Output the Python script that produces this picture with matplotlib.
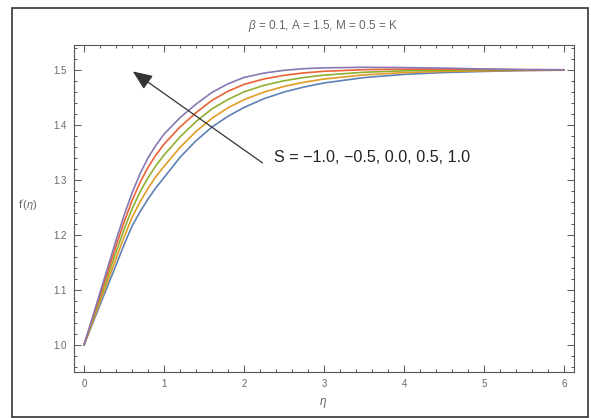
import matplotlib.pyplot as plt
from matplotlib.patches import Rectangle
from matplotlib.ticker import MultipleLocator

plt.rcParams['font.family'] = ['Liberation Sans', 'DejaVu Sans']
plt.rcParams['mathtext.fontset'] = 'custom'
plt.rcParams['mathtext.it'] = 'Liberation Sans:italic'
plt.rcParams['mathtext.rm'] = 'Liberation Sans'

# eta grid and f'(eta), one list per S value
eta = [0, 0.2, 0.4, 0.5, 0.6, 0.7, 0.8, 0.9, 1.0, 1.2, 1.4, 1.6, 1.8, 2.0,
       2.25, 2.5, 2.75, 3.0, 3.5, 4.0, 4.5, 5.0, 5.5, 6.0]
s_values = ['-1.0', '-0.5', '0.0', '0.5', '1.0']
f_s_m10 = [1.0, 1.073, 1.145, 1.182, 1.216, 1.242, 1.265, 1.286, 1.304, 1.341,
           1.371, 1.396, 1.4155, 1.4315, 1.4475, 1.4595, 1.4687, 1.476, 1.4858,
           1.4916, 1.495, 1.497, 1.4985, 1.4993]
f_s_m05 = [1.0, 1.0787, 1.1567, 1.1958, 1.2316, 1.260, 1.2845, 1.306, 1.3245,
           1.359, 1.388, 1.412, 1.431, 1.4457, 1.4596, 1.4698, 1.4774, 1.4832,
           1.4907, 1.4948, 1.4971, 1.4982, 1.499, 1.4995]
f_s_00 = [1.0, 1.0844, 1.1684, 1.2096, 1.2472, 1.2779, 1.304, 1.326, 1.345,
          1.378, 1.406, 1.429, 1.446, 1.460, 1.4717, 1.480, 1.486, 1.4903,
          1.4955, 1.498, 1.4992, 1.4993, 1.4995, 1.4997]
f_s_p05 = [1.0, 1.0899, 1.1797, 1.2228, 1.2622, 1.2951, 1.3228, 1.3453, 1.3648,
           1.396, 1.422, 1.4445, 1.461, 1.4735, 1.4833, 1.4899, 1.4943, 1.4972,
           1.5002, 1.5011, 1.5012, 1.5005, 1.5, 1.4999]
f_s_p10 = [1.0, 1.095, 1.19, 1.235, 1.276, 1.311, 1.340, 1.363, 1.383, 1.413,
           1.4375, 1.459, 1.4745, 1.486, 1.494, 1.499, 1.502, 1.5035, 1.5045,
           1.504, 1.503, 1.5015, 1.5005, 1.500]
series = [f_s_m10, f_s_m05, f_s_00, f_s_p05, f_s_p10]
colors = ['#5E81B5', '#E19C24', '#8FB032', '#EB6235', '#8778B3']

fig = plt.figure(figsize=(5.91, 4.18), dpi=100)
ax = fig.add_axes([74 / 591, 46 / 418, 500 / 591, 327 / 418])

for ys, c in zip(series, colors):
    ax.plot(eta, ys, color=c, lw=1.2)

ax.set_xlim(-0.125, 6.125)
ax.set_ylim(0.951, 1.545)
ax.xaxis.set_major_locator(MultipleLocator(1))
ax.xaxis.set_minor_locator(MultipleLocator(0.2))
ax.yaxis.set_major_locator(MultipleLocator(0.1))
ax.yaxis.set_minor_locator(MultipleLocator(0.02))
ax.yaxis.set_major_formatter(plt.FuncFormatter(lambda v, p: f'{v:.1f}'))
ax.tick_params(which='both', direction='in', top=True, right=True,
               color='#555555', labelsize=7, labelcolor='#666666', width=0.7)
ax.tick_params(which='major', length=5, pad=5)
ax.tick_params(which='minor', length=2.5)
for sp in ax.spines.values():
    sp.set_color('#555555')
    sp.set_linewidth(0.8)

ax.annotate('', xy=(0.61, 1.497), xytext=(2.23, 1.331),
            arrowprops=dict(arrowstyle='-|>,head_length=1.2,head_width=0.5',
                            color='#333333', lw=0.9, shrinkA=0, shrinkB=0))
ax.text(2.37, 1.340, 'S = \u22121.0, \u22120.5, 0.0, 0.5, 1.0', fontsize=11.6,
        color='#222222', va='center', ha='left')

fig.text(323 / 591, 1 - 26 / 418, r'$\beta$ = 0.1, A = 1.5, M = 0.5 = K',
         ha='center', va='center', fontsize=8.5, color='#666666')
fig.text(323 / 591, 1 - 403 / 418, r'$\eta$', ha='center', va='center',
         fontsize=8.5, color='#666666')
fig.text(28 / 591, 1 - 205 / 418, r"$\mathrm{f}'\mathrm{(}\eta\mathrm{)}$",
         ha='center', va='center', fontsize=8, color='#666666')

fig.patches.append(Rectangle((12 / 591, 0.002), 576 / 591, 1 - 8 / 418 - 0.002,
                             transform=fig.transFigure, fill=False,
                             edgecolor='#333333', lw=1.2))

fig.savefig('out.png', dpi=100)
